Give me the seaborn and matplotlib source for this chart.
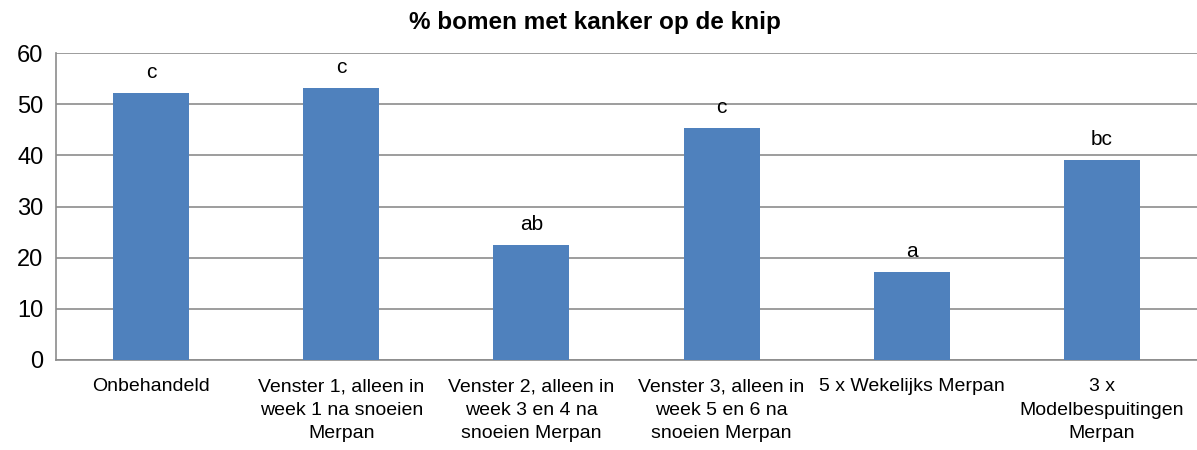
import matplotlib
matplotlib.use("Agg")
import matplotlib.pyplot as plt
import seaborn as sns
import pandas as pd

# data
treatments = [
    "Onbehandeld",
    "Venster 1, alleen in\nweek 1 na snoeien\nMerpan",
    "Venster 2, alleen in\nweek 3 en 4 na\nsnoeien Merpan",
    "Venster 3, alleen in\nweek 5 en 6 na\nsnoeien Merpan",
    "5 x Wekelijks Merpan",
    "3 x\nModelbespuitingen\nMerpan",
]
percent_canker = [52.2, 53.2, 22.5, 45.3, 17.2, 39.1]
letters = ["c", "c", "ab", "c", "a", "bc"]

df = pd.DataFrame({"treatment": treatments, "pct": percent_canker})

sns.set_style("white")
plt.rcParams["font.family"] = ["Liberation Sans", "DejaVu Sans"]
plt.rcParams["text.color"] = "black"

fig = plt.figure(figsize=(11.97, 4.5), dpi=100)
ax = fig.add_axes([56 / 1197, 0.2, 1 - 56 / 1197, 0.682])

sns.barplot(data=df, x="treatment", y="pct", color="#4F81BD", saturation=1,
            width=0.4, linewidth=0, ax=ax, zorder=3)

# significance letters above the bars
for i, (v, lab) in enumerate(zip(percent_canker, letters)):
    ax.annotate(lab, (i, v), xytext=(0, 8), textcoords="offset points",
                ha="center", va="bottom", fontsize=15, color="black")

ax.set_ylim(0, 60)
ax.set_yticks(range(0, 61, 10))
ax.set_xlim(-0.5, len(treatments) - 0.5)
ax.yaxis.grid(True, color="#8c8c8c", linewidth=1.2, zorder=0)
ax.set_axisbelow(True)

for s in ["top", "right"]:
    ax.spines[s].set_visible(False)
for s in ["left", "bottom"]:
    ax.spines[s].set_color("#8c8c8c")
    ax.spines[s].set_linewidth(1.2)

# category boundary ticks on the x axis
ax.set_xticks([i - 0.5 for i in range(len(treatments) + 1)], minor=True)
ax.tick_params(axis="x", which="minor", length=6, color="#8c8c8c", width=1.2)
ax.tick_params(axis="x", which="major", length=0, labelsize=14, pad=13,
               labelcolor="black")
ax.tick_params(axis="y", length=6, color="#8c8c8c", width=1.2, labelsize=17,
               pad=3, labelcolor="black")
for t in ax.get_xticklabels():
    t.set_linespacing(1.5)

ax.set_xlabel("")
ax.set_ylabel("")
fig.suptitle("% bomen met kanker op de knip", fontsize=17.5, fontweight="bold",
             x=0.497, y=0.975, va="top", color="black")

fig.savefig("out.png", dpi=100)
